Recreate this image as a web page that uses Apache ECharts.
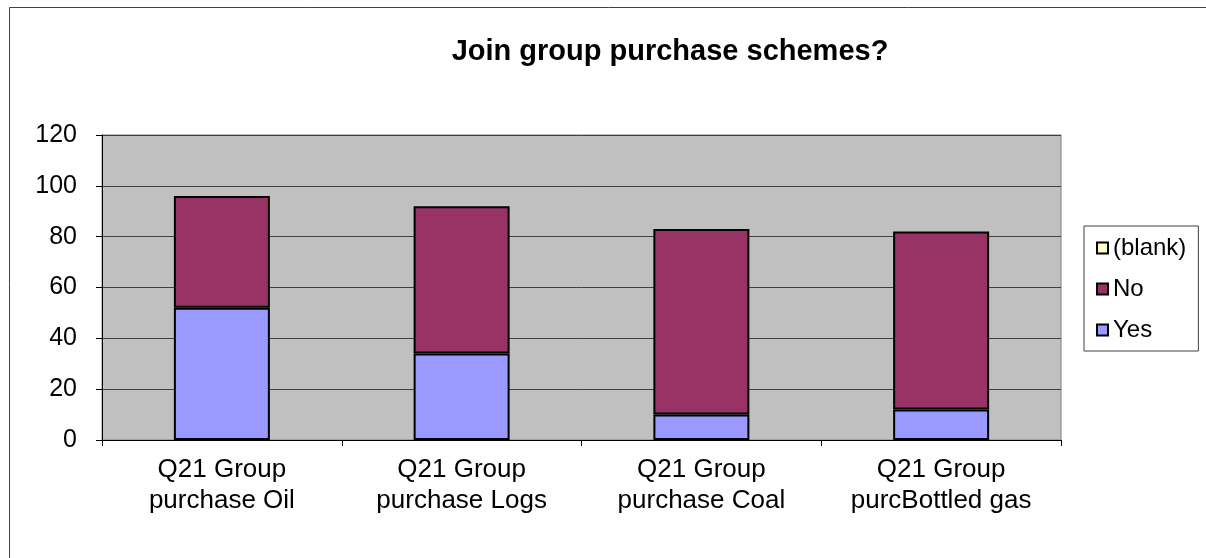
<!DOCTYPE html>
<html>
<head>
<meta charset="utf-8">
<style>
html,body{margin:0;padding:0;background:#fff;}
#chart{width:1206px;height:558px;}
</style>
<script src="https://cdn.jsdelivr.net/npm/echarts@6/dist/echarts.min.js"></script>
</head>
<body>
<div id="chart"></div>
<script>
const categories = ['Q21 Group\npurchase Oil', 'Q21 Group\npurchase Logs', 'Q21 Group\npurchase Coal', 'Q21 Group\npurcBottled gas'];
const yesValues = [52, 34, 10, 12];
const noValues = [44, 58, 73, 70];
const blankValues = [null, null, null, null];
const yTicks = { min: 0, max: 120, interval: 20 };
const titleText = 'Join group purchase schemes?';

const chart = echarts.init(document.getElementById('chart'), null, { renderer: 'canvas' });
const font = 'Liberation Sans, Arial, sans-serif';
const barBorder = { borderColor: '#000', borderWidth: 2 };

chart.setOption({
  animation: false,
  backgroundColor: '#fff',
  title: {
    text: titleText,
    left: 665, textAlign: 'center', top: 32,
    textStyle: { fontFamily: font, fontSize: 29, fontWeight: 'bold', color: '#000' }
  },
  graphic: [{
    type: 'rect', silent: true, z: -1,
    shape: { x: 9.5, y: 7.5, width: 1400, height: 800 },
    style: { fill: null, stroke: '#404040', lineWidth: 1 }
  }],
  legend: {
    orient: 'vertical',
    left: 1084, top: 226,
    padding: [10, 12, 9, 12],
    itemGap: 17,
    itemWidth: 11, itemHeight: 11,
    borderColor: '#404040', borderWidth: 1,
    icon: 'rect',
    data: ['(blank)', 'No', 'Yes'],
    textStyle: { fontFamily: font, fontSize: 24, color: '#000', lineHeight: 24 },
    itemStyle: { borderColor: '#000', borderWidth: 2 }
  },
  grid: {
    left: 102, right: 145, top: 135, bottom: 118,
    show: true, backgroundColor: '#C0C0C0', borderColor: '#808080', borderWidth: 1
  },
  xAxis: {
    type: 'category',
    data: categories,
    axisLine: { lineStyle: { color: '#000', width: 1 } },
    axisTick: { show: true, length: 6, alignWithLabel: false, lineStyle: { color: '#000' } },
    axisLabel: { fontFamily: font, fontSize: 26, lineHeight: 31, color: '#000', margin: 14, interval: 0 },
    splitLine: { show: false }
  },
  yAxis: {
    type: 'value',
    min: yTicks.min, max: yTicks.max, interval: yTicks.interval,
    axisLine: { show: true, lineStyle: { color: '#000', width: 1 } },
    axisTick: { show: true, length: 6, lineStyle: { color: '#000' } },
    axisLabel: { fontFamily: font, fontSize: 25, color: '#000', margin: 25 },
    splitLine: { show: true, lineStyle: { color: '#404040', width: 1 } }
  },
  series: [
    { name: 'Yes', type: 'bar', stack: 'total', data: yesValues, barWidth: 96,
      itemStyle: Object.assign({ color: '#9999FF' }, barBorder) },
    { name: 'No', type: 'bar', stack: 'total', data: noValues, barWidth: 96,
      itemStyle: Object.assign({ color: '#993366' }, barBorder) },
    { name: '(blank)', type: 'bar', stack: 'total', data: blankValues, barWidth: 96,
      itemStyle: Object.assign({ color: '#FFFFCC' }, barBorder) }
  ]
});
</script>
</body>
</html>
